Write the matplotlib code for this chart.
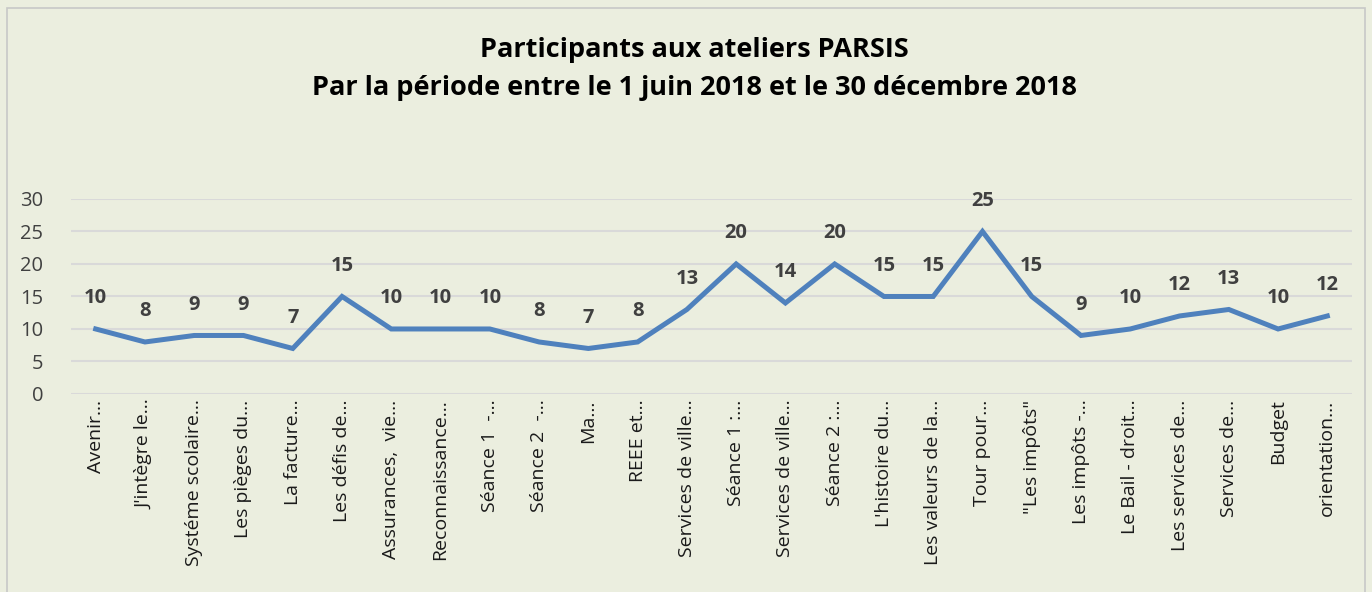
import matplotlib
matplotlib.use("Agg")
import matplotlib.pyplot as plt
from matplotlib.patches import Rectangle

categories = ["Avenir…", "J'intègre le…", "Systéme scolaire…", "Les pièges du…", "La facture…",
              "Les défis de…", "Assurances,  vie…", "Reconnaissance…", "Séance 1  -…", "Séance 2  -…",
              "Ma…", "REEE et…", "Services de ville…", "Séance 1 :…", "Services de ville…",
              "Séance 2 :…", "L'histoire du…", "Les valeurs de la…", "Tour pour…", "\"Les impôts\"",
              "Les impôts -…", "Le Bail - droit…", "Les services de…", "Services de…", "Budget",
              "orientation…"]
values = [10, 8, 9, 9, 7, 15, 10, 10, 10, 8, 7, 8, 13, 20, 14, 20, 15, 15, 25, 15, 9, 10, 12, 13, 10, 12]
yticks = [0, 5, 10, 15, 20, 25, 30]
title = "Participants aux ateliers PARSIS\nPar la période entre le 1 juin 2018 et le 30 décembre 2018"

plt.rcParams['font.family'] = ['Open Sans', 'DejaVu Sans']
bg = "#EBEEDF"
fig = plt.figure(figsize=(13.72, 5.92), dpi=100, facecolor=bg)
ax = fig.add_axes([0.0518, 0.3345, 0.9336, 0.3294])
ax.set_facecolor(bg)

x = list(range(len(values)))
ax.plot(x, values, color="#4F81BD", lw=3.6, solid_joinstyle="miter", zorder=3)
for xi, v in zip(x, values):
    ax.annotate(str(v), (xi, v), xytext=(0, 22), textcoords="offset points",
                ha="center", va="center", fontsize=14.5, fontweight="bold", color="#404040")

ax.set_xlim(-0.5, len(values) - 0.5)
ax.set_ylim(0, 30)
ax.set_yticks(yticks)
ax.set_xticks(x)
ax.set_xticklabels(categories, rotation=90, ha="center", va="top", fontsize=14, color="#1a1a1a")
ax.tick_params(axis="y", labelsize=14.5, colors="#404040", length=0, pad=20)
ax.tick_params(axis="x", length=0, pad=4)
ax.grid(axis="y", color="#D9D9D9", lw=1.5)
ax.set_axisbelow(True)
for s in ax.spines.values():
    s.set_visible(False)

fig.text(0.506, 0.883, title, ha="center", va="center", fontsize=19.5, fontweight="bold",
         color="#000000", linespacing=1.62)
fig.patches.append(Rectangle((7 / 1372, -0.01), 1358 / 1372, 1 - 8 / 592 + 0.01,
                             transform=fig.transFigure, fill=False, edgecolor="#C8C8C8", lw=1.2))
fig.savefig("out.png", dpi=100, facecolor=bg)
